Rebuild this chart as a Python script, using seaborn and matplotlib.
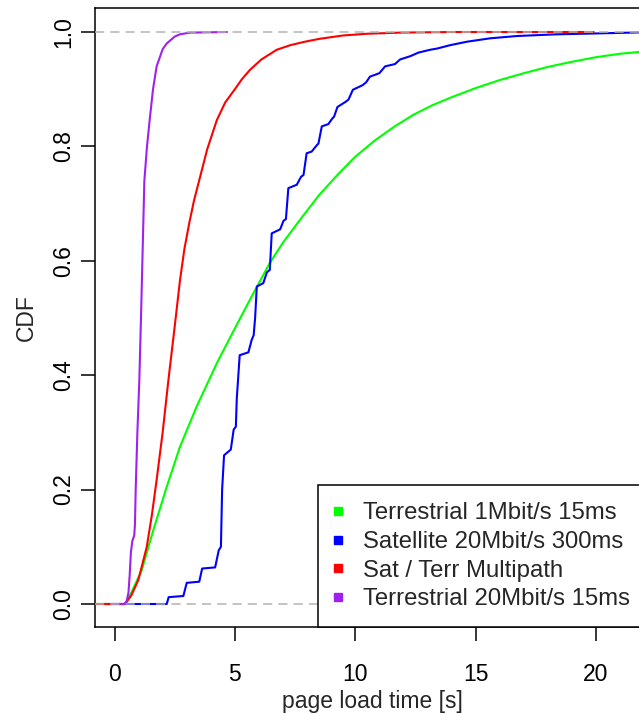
import numpy as np
import pandas as pd
import matplotlib
matplotlib.use("Agg")
import matplotlib.pyplot as plt
from matplotlib.lines import Line2D
import seaborn as sns

# Empirical CDFs of page load time, one curve per network configuration
labels = ["Terrestrial 1Mbit/s 15ms", "Satellite 20Mbit/s 300ms",
          "Sat / Terr Multipath", "Terrestrial 20Mbit/s 15ms"]
colors = ["#00FF00", "#0000FF", "#FF0000", "#A020F0"]

terr1_time = [-1.0, 0.44, 0.7, 1.13, 1.61, 2.17, 2.72, 3.41, 4.25, 5.0, 5.6,
              6.46, 7.0, 7.71, 8.5, 9.3, 10.0, 10.8, 11.6, 12.4, 13.2, 14.0,
              15.0, 16.0, 17.0, 18.0, 19.0, 20.0, 21.0, 22.5]
terr1_cdf = [0.0, 0.0, 0.02, 0.059, 0.129, 0.205, 0.275, 0.345, 0.421, 0.482, 0.53,
             0.597, 0.632, 0.672, 0.715, 0.752, 0.782, 0.81, 0.834, 0.855, 0.872, 0.886,
             0.902, 0.916, 0.928, 0.939, 0.948, 0.956, 0.962, 0.968]

sat_time = [-0.5, 2.17, 2.25, 2.86, 3.0, 3.52, 3.64, 4.18, 4.33, 4.42, 4.47, 4.55,
            4.83, 4.95, 5.04, 5.08, 5.2, 5.56, 5.70, 5.78, 5.84, 5.91, 6.18, 6.33,
            6.45, 6.53, 6.88, 7.02, 7.12, 7.22, 7.57, 7.75, 7.85, 7.98, 8.19, 8.40,
            8.47, 8.61, 8.88, 9.05, 9.12, 9.26, 9.6, 9.72, 9.90, 10.3, 10.45, 10.61,
            11.0, 11.24, 11.65, 11.86, 12.3, 12.62, 13.11, 13.39, 13.94, 14.63, 15.6,
            16.71, 18.37, 19.48, 22.5]
sat_cdf = [0.0, 0.0, 0.012, 0.014, 0.037, 0.039, 0.062, 0.064, 0.094, 0.1, 0.2, 0.26,
           0.27, 0.305, 0.31, 0.36, 0.435, 0.44, 0.462, 0.47, 0.5, 0.555, 0.561, 0.58,
           0.584, 0.648, 0.655, 0.67, 0.673, 0.727, 0.733, 0.747, 0.75, 0.788, 0.791, 0.802,
           0.805, 0.835, 0.839, 0.849, 0.852, 0.869, 0.878, 0.882, 0.899, 0.907, 0.912, 0.922,
           0.928, 0.940, 0.944, 0.952, 0.958, 0.964, 0.969, 0.971, 0.977, 0.983, 0.989,
           0.993, 0.996, 0.997, 1.0]

multi_time = [-1.0, 0.44, 0.7, 0.99, 1.1, 1.34, 1.55, 1.75, 2.0, 2.24, 2.5, 2.72,
              2.9, 3.1, 3.3, 3.52, 3.85, 4.25, 4.6, 5.0, 5.3, 5.63, 6.1, 6.74, 7.3,
              7.9, 8.5, 9.5, 10.5, 11.9, 14.0, 19.9]
multi_cdf = [0.0, 0.0, 0.015, 0.042, 0.06, 0.10, 0.155, 0.217, 0.30, 0.392, 0.485, 0.566,
             0.62, 0.665, 0.705, 0.741, 0.795, 0.846, 0.877, 0.90, 0.918, 0.934, 0.952, 0.969, 0.977,
             0.983, 0.988, 0.994, 0.997, 0.999, 1.0, 1.0]

terr20_time = [-0.1, 0.40, 0.5, 0.58, 0.63, 0.68, 0.74, 0.82, 0.85, 0.88, 0.95, 1.03,
               1.1, 1.17, 1.24, 1.35, 1.47, 1.6, 1.75, 2.0, 2.17, 2.5, 2.72, 3.14, 4.67]
terr20_cdf = [0.0, 0.0, 0.004, 0.02, 0.05, 0.09, 0.11, 0.12, 0.14, 0.2, 0.3, 0.39,
              0.5, 0.62, 0.74, 0.8, 0.85, 0.9, 0.94, 0.97, 0.98, 0.992, 0.996, 0.999, 1.0]

x_ticks = [0, 5, 10, 15, 20]
y_ticks = [0.0, 0.2, 0.4, 0.6, 0.8, 1.0]

series = [(terr1_time, terr1_cdf), (sat_time, sat_cdf),
          (multi_time, multi_cdf), (terr20_time, terr20_cdf)]
df = pd.concat([pd.DataFrame({"time": t, "cdf": c, "config": name})
                for (t, c), name in zip(series, labels)], ignore_index=True)

sns.set_style("white")
plt.rcParams["font.family"] = ["Liberation Sans", "DejaVu Sans"]
fs = 16.5
fs_leg = 17.2

W, H = 639, 714
fig = plt.figure(figsize=(W / 100, H / 100), dpi=100)
ax = fig.add_axes([95 / W, 87 / H, 554 / W, 619 / H])

sns.lineplot(data=df, x="time", y="cdf", hue="config", hue_order=labels,
             palette=dict(zip(labels, colors)), sort=False, estimator=None,
             linewidth=1.5, legend=False, ax=ax, zorder=3)

for yv in (0.0, 1.0):
    ax.axhline(yv, color="#B3B3B3", linestyle=(0, (6, 4)), linewidth=1.1, zorder=4)

ax.set_xlim(-0.81, 22.2)
ax.set_ylim(-0.0402, 1.042)
ax.set_xticks(x_ticks)
ax.set_xticklabels([str(v) for v in x_ticks])
ax.set_yticks(y_ticks)
ax.set_yticklabels([f"{v:.1f}" for v in y_ticks], rotation=90, va="center")
ax.tick_params(axis="both", direction="out", length=10, width=1.1,
               color="black", labelsize=fs, labelcolor="black",
               bottom=True, left=True, top=False, right=False)
ax.tick_params(axis="x", pad=16)
ax.tick_params(axis="y", pad=4.5)
for s in ax.spines.values():
    s.set_visible(True)
    s.set_color("black")
    s.set_linewidth(1.1)

ax.set_xlabel("page load time [s]", fontsize=fs, labelpad=3)
ax.set_ylabel("CDF", fontsize=fs, labelpad=10)

handles = [Line2D([], [], marker="s", linestyle="none", color=c, markersize=5.5)
           for c in colors]
leg = ax.legend(handles, labels, loc="lower left",
                bbox_to_anchor=(318 / W, 87 / H), bbox_transform=fig.transFigure,
                fontsize=fs_leg, frameon=True, fancybox=False, framealpha=1,
                borderpad=0.7, handlelength=0.3, handletextpad=0.9,
                labelspacing=0.28, borderaxespad=0)
leg.get_frame().set_edgecolor("black")
leg.get_frame().set_linewidth(1.1)
leg.set_zorder(6)

fig.savefig("out.png", dpi=100)
